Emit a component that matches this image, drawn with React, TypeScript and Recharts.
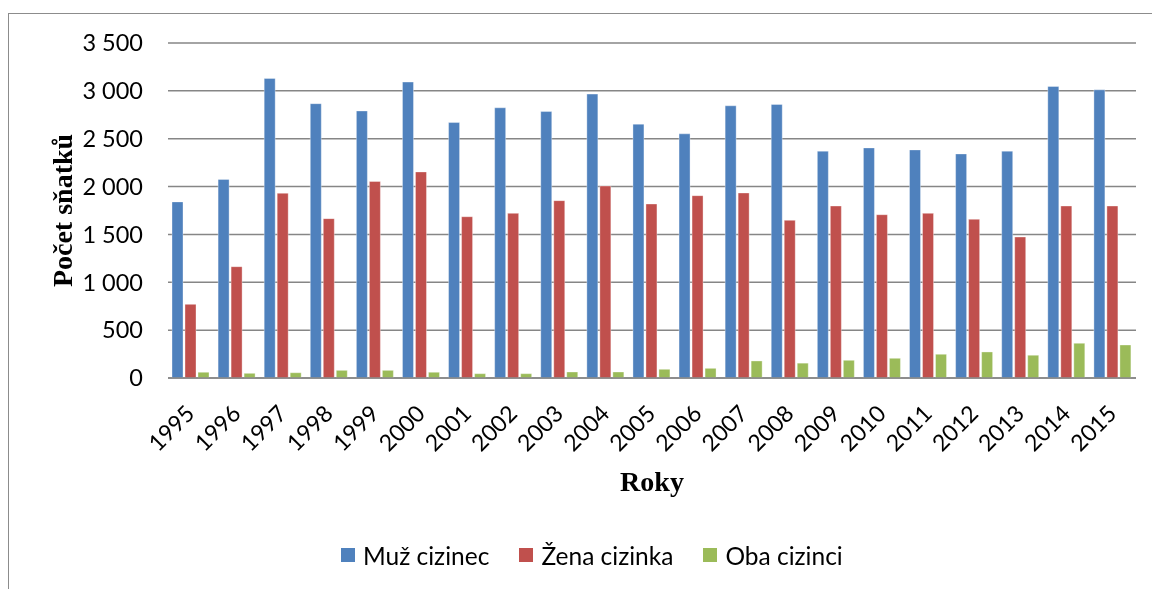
import React from 'react';
import { BarChart, Bar, XAxis, YAxis, CartesianGrid, Legend } from 'recharts';

const years = ['1995','1996','1997','1998','1999','2000','2001','2002','2003','2004','2005','2006','2007','2008','2009','2010','2011','2012','2013','2014','2015'];
const muzCizinec = [1840, 2075, 3130, 2866, 2790, 3092, 2669, 2823, 2784, 2966, 2652, 2551, 2844, 2858, 2370, 2404, 2383, 2341, 2370, 3046, 3011];
const zenaCizinka = [770, 1163, 1930, 1665, 2053, 2153, 1685, 1720, 1853, 2006, 1818, 1905, 1933, 1647, 1797, 1706, 1720, 1658, 1473, 1797, 1797];
const obaCizinci = [60, 49, 55, 80, 80, 60, 45, 45, 63, 63, 91, 101, 178, 155, 185, 206, 248, 272, 238, 363, 345];
const yTicks = [0, 500, 1000, 1500, 2000, 2500, 3000, 3500];

const series = [
  { key: 'muz', name: 'Muž cizinec', color: '#4F81BD' },
  { key: 'zena', name: 'Žena cizinka', color: '#C0504D' },
  { key: 'oba', name: 'Oba cizinci', color: '#9BBB59' },
];

const data = years.map((y, i) => ({ year: y, muz: muzCizinec[i], zena: zenaCizinka[i], oba: obaCizinci[i] }));

const FONT = 'Lato, "Open Sans", sans-serif';
const GRID = '#868686';

const fmt = (v: number) => {
  const s = String(v);
  if (s.length <= 3) return s;
  return s.slice(0, s.length - 3) + '\u00a0' + s.slice(s.length - 3);
};

const XTick = (props: any) => {
  const { x, y, payload } = props;
  const ax = x + 5;
  const ay = y + 37;
  return (
    <text x={ax} y={ay} transform={`rotate(-45, ${ax}, ${ay})`} textAnchor="end" fontFamily={FONT} fontSize={23} fill="#000">
      {payload.value}
    </text>
  );
};

const YTitle = (props: any) => {
  const vb = props.viewBox;
  const x = vb.x + 64;
  const y = vb.y + vb.height / 2;
  return (
    <text x={x} y={y} transform={`rotate(-90, ${x}, ${y})`} textAnchor="middle" fontFamily='"Liberation Serif", "Times New Roman", serif' fontWeight="bold" fontSize={28} fill="#000">
      Počet sňatků
    </text>
  );
};

const XTitle = (props: any) => {
  const vb = props.viewBox;
  const x = vb.x + vb.width / 2;
  const y = vb.y + 113;
  return (
    <text x={x} y={y} textAnchor="middle" fontFamily='"Liberation Serif", "Times New Roman", serif' fontWeight="bold" fontSize={28} fill="#000">
      Roky
    </text>
  );
};

const LegendContent = () => (
  <div style={{ height: 50, display: 'flex', alignItems: 'center', paddingLeft: 333, fontFamily: FONT, fontSize: 24.5, color: '#000' }}>
    {series.map((s, i) => (
      <div key={s.key} style={{ display: 'flex', alignItems: 'center', marginRight: i < series.length - 1 ? 30 : 0 }}>
        <span style={{ display: 'inline-block', width: 14, height: 14, background: s.color, marginRight: 8 }} />
        <span>{s.name}</span>
      </div>
    ))}
  </div>
);

export default function App() {
  return (
    <div style={{ position: 'relative', width: 1136, height: 573, fontFamily: FONT }}>
      <div style={{ position: 'fixed', left: 8, top: 13, width: 1300, height: 800, borderLeft: '1.5px solid #8c8c8c', borderTop: '1.5px solid #8c8c8c', pointerEvents: 'none' }} />
      <BarChart width={1136} height={573} data={data} margin={{ top: 35, right: 8, left: 0, bottom: 1 }} barCategoryGap={4} barGap={2}>
        <CartesianGrid vertical={false} stroke={GRID} strokeWidth={1.5} />
        <XAxis dataKey="year" height={152} axisLine={{ stroke: GRID, strokeWidth: 1.5 }} tickLine={false} tickSize={0} tickMargin={0} interval={0} tick={<XTick />} label={<XTitle />} />
        <YAxis width={160} domain={[0, 3500]} ticks={yTicks} axisLine={false} tickLine={false} tickSize={0} tickMargin={25} tickFormatter={fmt} tick={{ fontFamily: FONT, fontSize: 23.5, fill: '#000' }} label={<YTitle />} />
        <Legend verticalAlign="bottom" height={50} content={<LegendContent />} />
        {series.map((s) => (
          <Bar key={s.key} dataKey={s.key} name={s.name} fill={s.color} stroke="#ffffff" strokeOpacity={0.35} strokeWidth={1} isAnimationActive={false} />
        ))}
      </BarChart>
    </div>
  );
}
